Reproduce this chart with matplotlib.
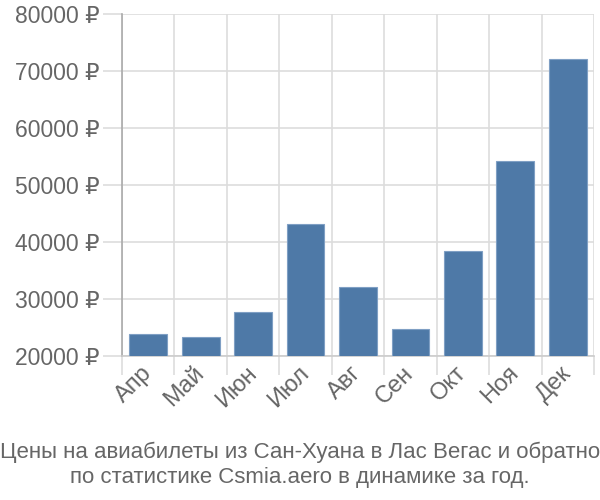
import matplotlib
matplotlib.use("Agg")
import matplotlib.pyplot as plt
import numpy as np

months = ["Апр", "Май", "Июн", "Июл", "Авг", "Сен", "Окт", "Ноя", "Дек"]
prices = [23800, 23300, 27700, 43200, 32100, 24700, 38400, 54200, 72200]
yticks = [20000, 30000, 40000, 50000, 60000, 70000, 80000]
caption = ("Цены на авиабилеты из Сан-Хуана в Лас Вегас и обратно\n"
           "по статистике Csmia.aero в динамике за год.")

plt.rcParams['font.family'] = ['Liberation Sans', 'DejaVu Sans']

fig = plt.figure(figsize=(6, 5), dpi=100)
ax = fig.add_axes([0.2033, 0.288, 0.7867, 0.683])

x = np.arange(len(months))
ax.bar(x, prices, width=0.72, color="#4e79a7", edgecolor="#7f9fc4", linewidth=0.8, zorder=3)

ax.set_xlim(-0.5, len(months) - 0.5)
ax.set_ylim(20000, 80000)
ax.set_yticks(yticks)
ax.set_yticklabels([f"{v} ₽" for v in yticks], fontsize=16.5, color="#666666")

ax.set_xticks(x)
ax.set_xticklabels(months, rotation=45, ha="right", va="center", rotation_mode="anchor",
                   fontsize=17, color="#666666")
ax.set_xticks(np.arange(-0.5, len(months)), minor=True)
ax.tick_params(axis="x", which="major", length=0, pad=10)
ax.tick_params(axis="x", which="minor", length=14, color="#dddddd", width=1.2)
ax.tick_params(axis="y", length=14, color="#dddddd", width=1.2, pad=2)

ax.grid(True, which="minor", axis="x", color="#dddddd", linewidth=1.2, zorder=0)
ax.grid(True, which="major", axis="y", color="#dddddd", linewidth=1.2, zorder=0)

for s in ["top", "right"]:
    ax.spines[s].set_visible(False)
ax.spines["left"].set_color("#aaaaaa")
ax.spines["left"].set_linewidth(1.2)
ax.spines["bottom"].set_color("#cccccc")
ax.spines["bottom"].set_linewidth(1.2)

fig.text(0.5, 0.025, caption, ha="center", va="bottom", fontsize=16,
         color="#666666", linespacing=1.2)

fig.savefig("out.png", dpi=100)
